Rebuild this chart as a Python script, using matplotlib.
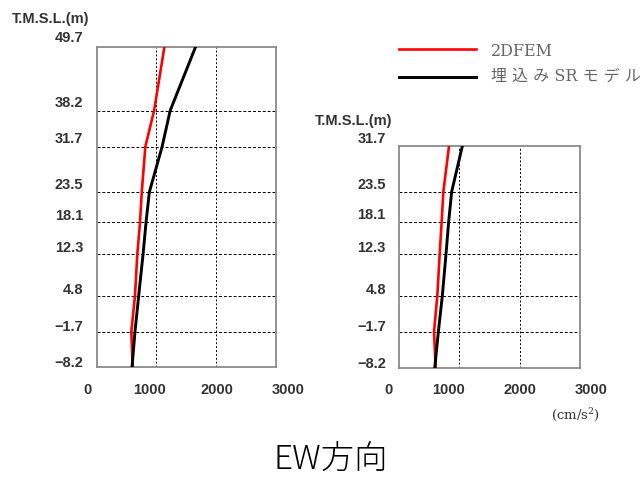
import matplotlib
matplotlib.use("Agg")
import matplotlib.pyplot as plt
import matplotlib.transforms as mtransforms

# 階高 (T.M.S.L. m)
levels_left = [49.7, 38.2, 31.7, 23.5, 18.1, 12.3, 4.8, -1.7, -8.2]
levels_right = [31.7, 23.5, 18.1, 12.3, 4.8, -1.7, -8.2]

# 最大応答加速度 (cm/s2)
fem_left = [1132, 960, 814, 754, 725, 680, 641, 580, 603]
sr_left = [1652, 1228, 1094, 881, 826, 776, 703, 641, 591]
fem_right = [829, 735, 707, 674, 635, 580, 608]
sr_right = [1050, 873, 823, 779, 718, 652, 592]

x_ticks = [0, 1000, 2000, 3000]
x_tick_labels = ["0", "1000", "2000", "3000"]

num_font = "Liberation Sans"
jp_font = ["Noto Sans CJK JP", "DejaVu Sans"]
mincho = ["DejaVu Serif", "Noto Sans CJK JP"]

fig = plt.figure(figsize=(6.44, 4.78), dpi=100)


def px(dx, dy):
    return mtransforms.ScaledTranslation(dx / 100, dy / 100, fig.dpi_scale_trans)


def setup_axes(ax, levels, fem, sr, xshift):
    ax.plot(fem, levels, color="#ff0000", lw=1.9, zorder=3)
    ax.plot(sr, levels, color="black", lw=2.1, zorder=4)
    ax.set_xlim(0, 3000)
    ax.set_ylim(min(levels), max(levels))
    ax.set_yticks(levels)
    ax.set_yticklabels([f"{v:.1f}".replace("-", "\u2212") for v in levels],
                       fontsize=10.5, family=num_font, weight="bold", color="#333333")
    ax.set_xticks(x_ticks)
    ax.set_xticklabels(x_tick_labels, fontsize=10.5, family=num_font,
                       weight="bold", color="#333333")
    ax.tick_params(axis="both", length=0)
    ax.tick_params(axis="x", pad=11)
    ax.tick_params(axis="y", pad=9.5)
    for v in levels[1:-1]:
        ax.axhline(v, color="black", lw=0.7, ls=(0, (3, 2)), zorder=1)
    for v in x_ticks[1:-1]:
        ax.axvline(v, color="black", lw=0.7, ls=(0, (2, 2)), zorder=1)
    for s in ax.spines.values():
        s.set_color("#8a8a8a")
        s.set_linewidth(1.3)
    for lab, v in zip(ax.get_yticklabels(), levels):
        lab.set_transform(lab.get_transform() + px(0, 5.8 + 0.073 * (v + 8.2)))
    for lab, dx in zip(ax.get_xticklabels(), xshift):
        lab.set_transform(lab.get_transform() + px(dx, 0))


ax1 = fig.add_axes([0.150, 0.2312, 0.279, 0.6705])
setup_axes(ax1, levels_left, fem_left, sr_left, [-9, -7, 1, 12])
ax2 = fig.add_axes([0.6196, 0.2301, 0.281, 0.4644])
setup_axes(ax2, levels_right, fem_right, sr_right, [-11, -11, 0, 11])

fig.text(12 / 644, 1 - 19 / 478, "T.M.S.L.(m)", fontsize=10.5, family=num_font,
         weight="bold", ha="left", va="center", color="#333333")
fig.text(315 / 644, 1 - 121 / 478, "T.M.S.L.(m)", fontsize=10.5, family=num_font,
         weight="bold", ha="left", va="center", color="#333333")
fig.text(551 / 644, 1 - 415 / 478, "(cm/s$^{\\mathregular{2}}$)", fontsize=9.5,
         family=mincho, ha="left", va="center", color="#333333")

# 凡例
fig.add_artist(plt.Line2D([399 / 644, 476 / 644], [1 - 49 / 478] * 2,
                          color="#ff0000", lw=1.9))
fig.add_artist(plt.Line2D([399 / 644, 476 / 644], [1 - 77 / 478] * 2,
                          color="black", lw=2.1))
fig.text(491 / 644, 1 - 51 / 478, "2DFEM", fontsize=11.5, family=mincho,
         ha="left", va="center", color="#666666")
fig.text(491 / 644, 1 - 76 / 478, "埋 込 み SR モ デ ル", fontsize=11.5, family=mincho,
         ha="left", va="center", color="#666666")

fig.text(331 / 644, 1 - 469 / 478, "EW方向", fontsize=24, family=jp_font,
         weight="light", ha="center", va="baseline")

fig.savefig("out.png", dpi=100)
